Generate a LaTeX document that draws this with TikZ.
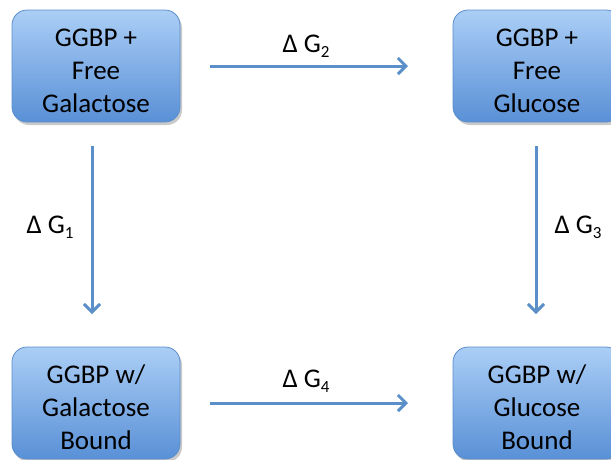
\documentclass[tikz,border=0pt]{standalone}
\usepackage{fontspec}
\setmainfont{Carlito}
\usetikzlibrary{arrows.meta,shadows}
\definecolor{boxtop}{HTML}{ABCEF6}
\definecolor{boxbot}{HTML}{5990D6}
\definecolor{boxedge}{HTML}{5B8DCB}
\definecolor{arr}{HTML}{5B8FC9}
\newcommand{\dgsub}[1]{\raisebox{-5pt}{\fontsize{17}{17}\selectfont #1}}
\newcommand{\topstrut}{\rule{0pt}{27pt}}
\tikzset{
  state/.style={rectangle, rounded corners=15pt, draw=boxedge, line width=0.8pt,
    top color=boxtop, bottom color=boxbot, minimum width=168pt, minimum height=112pt,
    align=center, font=\fontsize{27}{33}\selectfont, text=black, inner sep=0pt,
    drop shadow={shadow xshift=2pt, shadow yshift=-3pt, opacity=0.35, fill=black!60}},
  flow/.style={draw=arr, line width=3pt, -{Straight Barb[length=8pt,width=16pt,line width=3pt]}},
  dg/.style={font=\fontsize{27}{30}\selectfont, text=black, inner sep=0pt}
}
\begin{document}
\begin{tikzpicture}[x=1pt,y=-1pt]
\useasboundingbox (0,0) rectangle (611,459);
\begin{scope}
\clip (0,0) rectangle (611,459);
\node[state] (gal)  at (96,66)   {\topstrut GGBP +\\Free\\Galactose};
\node[state] (glc)  at (537,66)  {\topstrut GGBP +\\Free\\Glucose};
\node[state] (galb) at (96,403)  {\topstrut GGBP w/\\Galactose\\Bound};
\node[state] (glcb) at (537,403) {\topstrut GGBP w/\\Glucose\\Bound};
\end{scope}
\coordinate (a2s) at (210,66);  \coordinate (a2e) at (408,66);
\coordinate (a4s) at (210,403); \coordinate (a4e) at (408,403);
\coordinate (a1s) at (92,146);  \coordinate (a1e) at (92,314);
\coordinate (a3s) at (536,146); \coordinate (a3e) at (536,314);
\draw[flow] (a2s) -- (a2e);
\draw[flow] (a4s) -- (a4e);
\draw[flow] (a1s) -- (a1e);
\draw[flow] (a3s) -- (a3e);
\node[dg] (g2) at (306,46)  {Δ G\dgsub{2}};
\node[dg] (g4) at (306,381) {Δ G\dgsub{4}};
\node[dg] (g1) at (50,227)  {Δ G\dgsub{1}};
\node[dg] (g3) at (578,227) {Δ G\dgsub{3}};
\end{tikzpicture}
\end{document}
